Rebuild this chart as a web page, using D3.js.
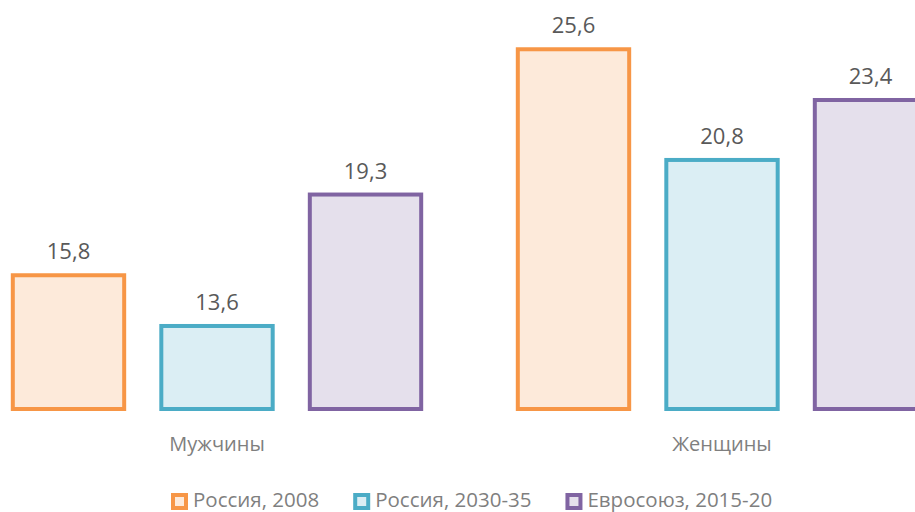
<!DOCTYPE html>
<html>
<head>
<meta charset="utf-8">
<script src="https://cdn.jsdelivr.net/npm/d3@7"></script>
<style>
  body { margin: 0; background: #fff; }
  svg { display: block; font-family: "Open Sans", sans-serif; }
</style>
</head>
<body>
<svg width="915" height="512"></svg>
<script>
var categories = ["Мужчины", "Женщины"];
var seriesNames = ["Россия, 2008", "Россия, 2030-35", "Евросоюз, 2015-20"];
var russia2008 = [15.8, 25.6];
var russia2030 = [13.6, 20.8];
var eu2015 = [19.3, 23.4];

var strokeColors = ["#F79646", "#4BACC6", "#8064A2"];
var fillColors = ["#FDEADA", "#DBEEF4", "#E5E0EC"];

var values = [russia2008, russia2030, eu2015];
var fmt = function(v) { return v.toFixed(1).replace(".", ","); };

var svg = d3.select("svg");

var x0 = d3.scaleBand().domain(categories)
    .range([-35.5, 974.5]).paddingInner(0.1178).paddingOuter(0.0589);
var x1 = d3.scaleBand().domain(seriesNames)
    .range([0, x0.bandwidth()]).paddingInner(0.25).paddingOuter(0.125);
var y = d3.scaleLinear().domain([10, 26]).range([409, 409 - 16 * 23.06]);

var groups = svg.selectAll(".grp")
    .data(categories)
    .enter().append("g")
    .attr("transform", function(d) { return "translate(" + x0(d) + ",0)"; });

var rows = function(c, ci) {
  return seriesNames.map(function(s, si) { return {s: s, si: si, v: values[si][ci]}; });
};

groups.selectAll("rect")
    .data(rows)
    .enter().append("rect")
    .attr("x", function(d) { return x1(d.s); })
    .attr("y", function(d) { return y(d.v); })
    .attr("width", x1.bandwidth())
    .attr("height", function(d) { return y(10) - y(d.v); })
    .attr("fill", function(d) { return fillColors[d.si]; })
    .attr("stroke", function(d) { return strokeColors[d.si]; })
    .attr("stroke-width", 4);

groups.selectAll(".val")
    .data(rows)
    .enter().append("text")
    .attr("x", function(d) { return x1(d.s) + x1.bandwidth() / 2; })
    .attr("y", function(d) { return y(d.v) - 16; })
    .attr("text-anchor", "middle")
    .attr("font-size", 22)
    .attr("fill", "#595959")
    .text(function(d) { return fmt(d.v); });

// category labels
svg.selectAll(".cat")
    .data(categories)
    .enter().append("text")
    .attr("x", function(d) { return x0(d) + x0.bandwidth() / 2; })
    .attr("y", 451)
    .attr("text-anchor", "middle")
    .attr("font-size", 20)
    .attr("fill", "#7F7F7F")
    .text(function(d) { return d; });

// legend
var lx = 171;
seriesNames.forEach(function(s, i) {
  var g = svg.append("g").attr("transform", "translate(" + lx + ",0)");
  g.append("rect")
      .attr("x", 2).attr("y", 495)
      .attr("width", 13).attr("height", 13)
      .attr("fill", fillColors[i])
      .attr("stroke", strokeColors[i])
      .attr("stroke-width", 4);
  var t = g.append("text")
      .attr("x", 22).attr("y", 507)
      .attr("font-size", 20.5)
      .attr("fill", "#7F7F7F")
      .text(s);
  lx += 22 + t.node().getComputedTextLength() + 34;
});
</script>
</body>
</html>
